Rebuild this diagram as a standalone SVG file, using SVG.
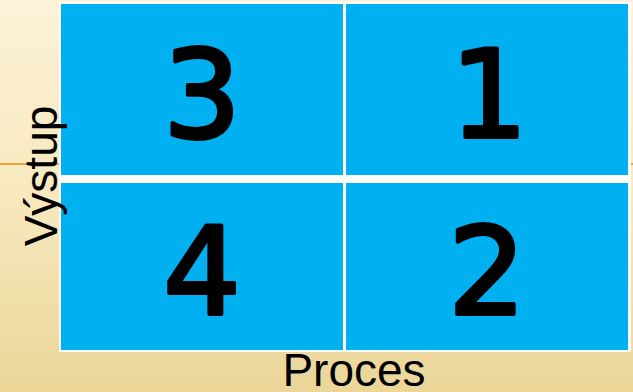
<svg xmlns="http://www.w3.org/2000/svg" width="633" height="392" viewBox="0 0 633 392">
<defs>
<linearGradient id="bg" x1="0" y1="0" x2="0" y2="1">
<stop offset="0" stop-color="#FCF2D8"/>
<stop offset="0.5" stop-color="#F7E8BE"/>
<stop offset="1" stop-color="#EBD698"/>
</linearGradient>
<style>
.cell{fill:#00B0F0;}
.dig{font-family:"DejaVu Sans",sans-serif;font-size:122px;fill:#000;stroke:#000;stroke-width:4px;stroke-linejoin:round;text-anchor:middle;}
.lab{font-family:"Liberation Sans",Arial,sans-serif;font-size:46px;fill:#000;text-anchor:middle;}
</style>
</defs>
<rect width="633" height="392" fill="url(#bg)"/>
<line x1="0" y1="164" x2="60" y2="164" stroke="#F0A436" stroke-width="2"/>
<line x1="630" y1="164" x2="633" y2="164" stroke="#F0A436" stroke-width="2"/>
<rect x="59" y="2" width="572" height="350" fill="#FFFFFF"/>
<g id="cell3"><rect class="cell" x="61" y="4" width="282" height="171"/><text class="dig" x="202" y="137">3</text></g>
<g id="cell1"><rect class="cell" x="346" y="4" width="282" height="171"/><text class="dig" x="489" y="137">1</text></g>
<g id="cell4"><rect class="cell" x="61" y="183" width="282" height="167"/><text class="dig" x="202" y="314">4</text></g>
<g id="cell2"><rect class="cell" x="346" y="183" width="282" height="167"/><text class="dig" x="487" y="314">2</text></g>
<text class="lab" x="354" y="386">Proces</text>
<text class="lab" transform="translate(57,176) rotate(-90)" x="0" y="0">Výstup</text>
</svg>
